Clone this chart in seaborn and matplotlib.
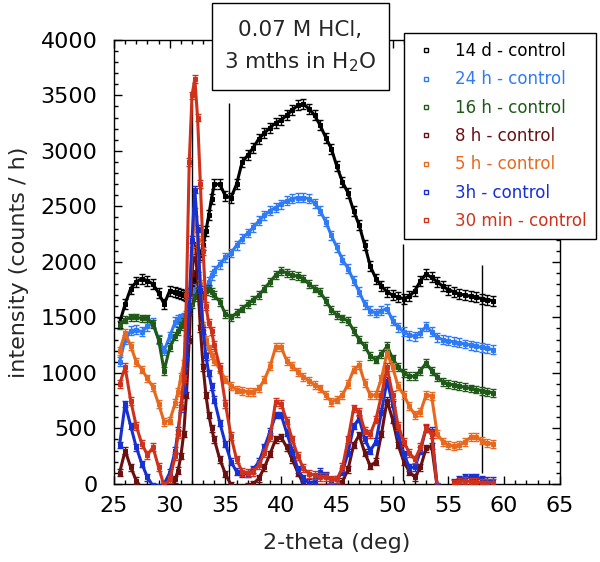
import numpy as np
import pandas as pd
import seaborn as sns
import matplotlib.pyplot as plt
from matplotlib.lines import Line2D
from matplotlib.patches import Rectangle

# 2-theta grid (deg), finer around the main peak
two_theta = [25.5, 26.0, 26.5, 27.0, 27.5, 28.0, 28.5, 29.0, 29.5, 30.0, 30.5,
             30.75, 31.0, 31.25, 31.5, 31.75, 32.0, 32.25, 32.5, 32.75, 33.0,
             33.25, 33.5, 33.75, 34.0,
             34.5, 35.0, 35.5, 36.0, 36.5, 37.0, 37.5, 38.0, 38.5, 39.0, 39.5,
             40.0, 40.5, 41.0, 41.5, 42.0, 42.5, 43.0, 43.5, 44.0, 44.5, 45.0,
             45.5, 46.0, 46.5, 47.0, 47.5, 48.0, 48.5, 49.0, 49.5, 50.0, 50.5,
             51.0, 51.5, 52.0, 52.5, 53.0, 53.5, 54.0, 54.5, 55.0, 55.5, 56.0,
             56.5, 57.0, 57.5, 58.0, 58.5, 59.0]

d14 = [1450, 1620, 1760, 1820, 1850, 1830, 1800, 1720, 1620, 1740, 1730,
       1720, 1710, 1700, 1690, 1720, 1790, 1850, 1950, 2060, 2150,
       2280, 2420, 2570, 2700,
       2700, 2590, 2580, 2700, 2900, 2960, 3030, 3110, 3160, 3210, 3250,
       3280, 3320, 3370, 3410, 3420, 3380, 3320, 3230, 3120, 3020, 2860,
       2720, 2620, 2460, 2330, 2150, 1960, 1850, 1780, 1730, 1700, 1680,
       1670, 1690, 1740, 1830, 1890, 1860, 1820, 1780, 1750, 1730, 1710,
       1700, 1690, 1680, 1670, 1660, 1650]

h24 = [1100, 1300, 1380, 1390, 1370, 1420, 1450, 1300, 1200, 1330, 1460,
       1480, 1490, 1500, 1520, 1580, 1680, 1760, 1720, 1660, 1680,
       1740, 1820, 1880, 1920,
       1980, 2040, 2080, 2150, 2210, 2260, 2310, 2370, 2420, 2460, 2490,
       2520, 2550, 2570, 2580, 2580, 2570, 2530, 2460, 2360, 2240, 2130,
       2020, 1940, 1830, 1730, 1620, 1560, 1540, 1560, 1580, 1470, 1410,
       1370, 1340, 1330, 1360, 1420, 1370, 1320, 1300, 1290, 1280, 1270,
       1260, 1250, 1240, 1230, 1220, 1210]

h16 = [1430, 1480, 1500, 1500, 1490, 1490, 1440, 1300, 1020, 1230, 1330,
       1380, 1420, 1460, 1500, 1560, 1620, 1680, 1730, 1720, 1700,
       1740, 1760, 1730, 1700,
       1640, 1530, 1500, 1540, 1580, 1620, 1660, 1700, 1760, 1820, 1880,
       1920, 1900, 1880, 1870, 1850, 1800, 1760, 1730, 1650, 1570, 1520,
       1490, 1470, 1380, 1300, 1240, 1150, 1120, 1170, 1240, 1130, 1050,
       1000, 970, 970, 1020, 1090, 1020, 960, 920, 900, 890, 880,
       870, 860, 850, 840, 830, 820]

h8 = [100, 300, 150, 30, -40, -60, -60, -60, -60, -60, 40,
      120, 250, 450, 800, 1300, 1900, 2150, 1850, 1400, 1050,
      800, 620, 500, 400,
      220, 90, -10, -40, -40, -20, 0, 50, 150, 270, 400,
      420, 330, 220, 100, 0, -30, -30, -30, -30, -30, -30,
      20, 130, 350, 440, 280, 160, 200, 450, 750, 580, 350,
      200, 110, 60, 150, 320, 340, -30, -60, -60, -60, -60,
      -60, -60, -60, -60, -60, -60]

h5 = [1200, 1360, 1240, 1100, 1030, 950, 870, 720, 560, 570, 730,
      830, 960, 1080, 1300, 1650, 2100, 2450, 2200, 1800, 1420,
      1300, 1220, 1160, 1110,
      1030, 940, 880, 850, 840, 830, 830, 860, 940, 1060, 1230,
      1230, 1110, 1060, 1010, 960, 930, 890, 860, 800, 740, 760,
      800, 900, 1030, 1070, 910, 800, 800, 950, 1180, 1050, 880,
      800, 700, 620, 650, 800, 790, 450, 380, 350, 340, 350,
      380, 420, 420, 390, 370, 360]

h3 = [350, 720, 520, 330, 180, 60, -20, -30, 0, 100, 300,
      480, 680, 850, 1150, 1600, 2200, 2650, 2300, 1750, 1380,
      1150, 1000, 880, 760,
      550, 360, 200, 110, 90, 90, 130, 200, 330, 470, 620,
      620, 460, 300, 130, 50, 10, 20, 110, 80, 30, 40,
      110, 280, 520, 590, 400, 300, 380, 650, 930, 720, 450,
      270, 150, 150, 300, 500, 480, -20, -100, -100, 10, 40,
      60, 60, 60, 40, 30, 30]

min30 = [900, 1050, 750, 520, 360, 260, 330, 150, -20, 40, 250,
         450, 700, 950, 1700, 2900, 3500, 3650, 3300, 2700, 2100,
         1600, 1450, 1380, 1250,
         1050, 720, 430, 220, 110, 100, 110, 170, 280, 420, 740,
         720, 570, 400, 250, 140, 90, 80, 60, 60, 40, 40,
         150, 400, 680, 650, 480, 450, 580, 800, 1050, 800, 520,
         380, 280, 220, 330, 500, 450, -30, -100, -100, 0, 20,
         30, 20, 20, 10, 10, 10]

labels = ['14 d - control', '24 h - control', '16 h - control', '8 h - control',
          '5 h - control', '3h - control', '30 min - control']
series = [d14, h24, h16, h8, h5, h3, min30]
errors = [45, 40, 35, 30, 35, 30, 35]
colors = ['#000000', '#2f7bf5', '#1f5a19', '#6a1010', '#e8691e', '#1630d2', '#d0311a']

# vertical reference lines
vline_x = [32.0, 35.3, 50.9, 58.0]
vline_top = [3420, 3430, 2160, 1970]
vline_bottom = [0, 0, 30, 100]

df = pd.concat([pd.DataFrame({'two_theta': two_theta, 'intensity': s, 'sample': lab})
                for s, lab in zip(series, labels)], ignore_index=True)

sns.set_style('ticks')
plt.rcParams['font.family'] = ['DejaVu Sans']
plt.rcParams['mathtext.default'] = 'regular'

fig = plt.figure(figsize=(6, 5.62), dpi=100)
ax = fig.add_axes([0.19, 0.139, 0.743, 0.79])

for i, (lab, col, err) in enumerate(zip(labels, colors, errors)):
    sub = df[df['sample'] == lab]
    sns.lineplot(data=sub, x='two_theta', y='intensity', color=col, sort=False,
                 estimator=None, linewidth=2.2, marker='s', markersize=3,
                 markeredgecolor=col, legend=False, ax=ax, zorder=3 + i)
    ax.errorbar(sub['two_theta'], sub['intensity'], yerr=err, fmt='none',
                ecolor=col, elinewidth=1, capsize=2, zorder=3 + i)

ax.vlines(vline_x, vline_bottom, vline_top, colors='black', linewidth=1, zorder=2)

ax.set_xlim(25, 65)
ax.set_ylim(0, 4000)
ax.set_xticks(np.arange(25, 66, 5))
ax.set_yticks(np.arange(0, 4001, 500))
ax.set_xticks(np.arange(25, 66, 1), minor=True)
ax.set_yticks(np.arange(0, 4001, 100), minor=True)
ax.tick_params(which='both', direction='in', top=True, right=True, colors='black')
ax.tick_params(which='major', length=6, width=1, labelsize=16)
ax.tick_params(axis='x', which='major', pad=9)
ax.tick_params(axis='y', which='major', pad=12)
ax.tick_params(which='minor', length=3, width=1)
for sp in ax.spines.values():
    sp.set_color('black')
    sp.set_linewidth(1)
ax.set_xlabel('2-theta (deg)', fontsize=16, labelpad=12)
ax.set_ylabel('intensity (counts / h)', fontsize=16, labelpad=8)

handles = [Line2D([], [], marker='s', markersize=3, markerfacecolor='none',
                  markeredgecolor=c, linestyle='none') for c in colors]
leg = ax.legend(handles, labels, loc='upper right', bbox_to_anchor=(596 / 600, 1 - 33 / 562),
                bbox_transform=fig.transFigure, borderaxespad=0, fontsize=12, frameon=True,
                fancybox=False, edgecolor='black', framealpha=1, labelcolor=colors,
                handlelength=1.5, handletextpad=1.0, labelspacing=0.62, borderpad=0.55)
leg.get_frame().set_linewidth(1)
leg.set_zorder(20)

fig.patches.append(Rectangle((212 / 600, 1 - 90 / 562), 177 / 600, 87 / 562,
                             transform=fig.transFigure, facecolor='white',
                             edgecolor='black', linewidth=1, zorder=20))
fig.text(0.5, 1 - 30 / 562, '0.07 M HCl,', ha='center', va='center', fontsize=15.5, zorder=21)
fig.text(0.5, 1 - 62 / 562, '3 mths in H$_2$O', ha='center', va='center', fontsize=15.5, zorder=21)

fig.savefig('out.png', dpi=100)
